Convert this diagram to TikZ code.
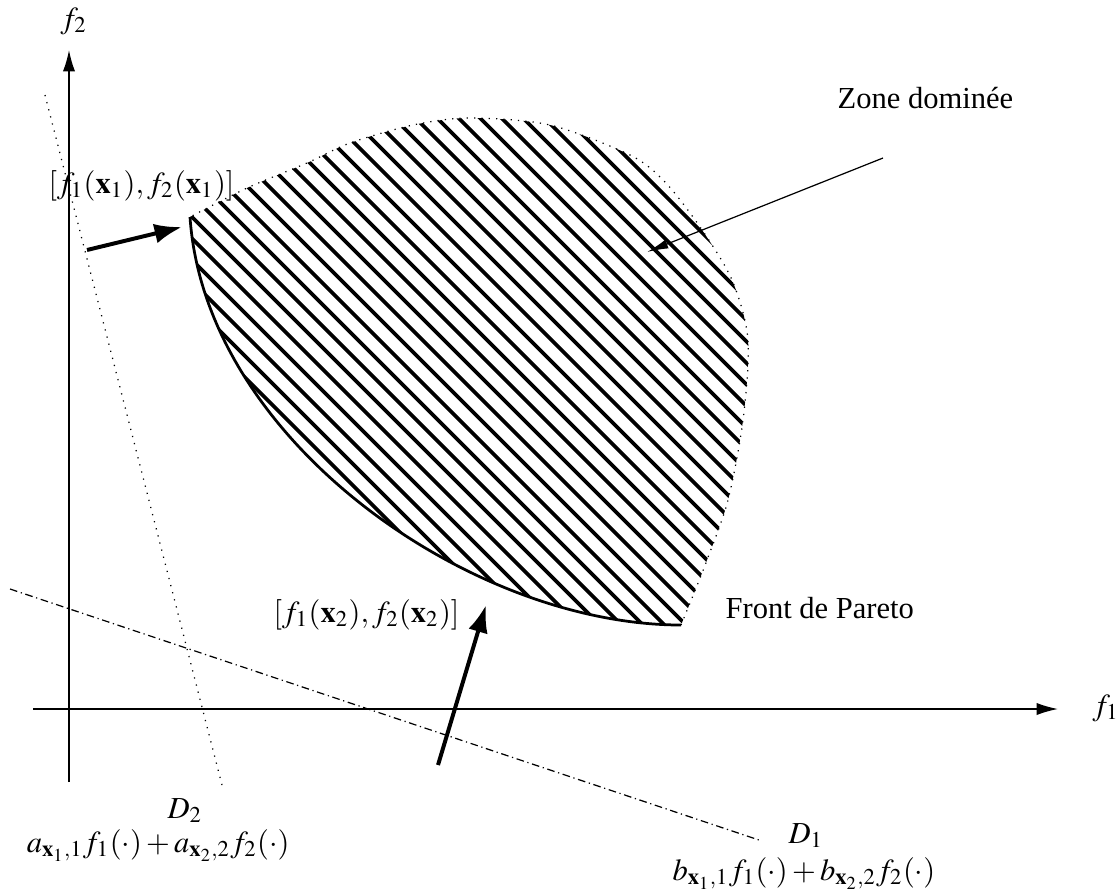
\documentclass[tikz,border=0pt]{standalone}
\usepackage{mathptmx}
\usepackage{fontspec}
\setmainfont{Liberation Serif}
\usetikzlibrary{arrows.meta,positioning}

\newcommand{\zonepath}{(190,217) .. controls (205,440) and (470,625) .. (681,625)
  -- plot[smooth] coordinates {(681,625) (690,603) (707,560) (728,500) (743,420) (748,340) (732,280) (700,227) (665,182) (630,155) (550,125) (470,118) (413,125) (350,143) (307,163) (247,188) (190,217)}}

\begin{document}
\begin{tikzpicture}[x=0.0115cm,y=-0.0115cm,
  axe/.style={line width=0.5pt,-{Latex[length=7pt,width=4pt]}},
  fleche/.style={line width=1.3pt,-{Latex[length=9pt,width=6.5pt]}},
  hach/.style={line width=1.2pt},
  lab/.style={inner sep=0pt}]
\useasboundingbox (0,0) rectangle (1116,890);

% axes
\coordinate (Xa) at (33,709);
\coordinate (X) at (1058,709);
\coordinate (Yb) at (69,782);
\coordinate (Y) at (69,50);
\draw[axe] (Xa) -- (X);
\draw[axe] (Yb) -- (Y);
\node[lab,anchor=base west] (F1) at (1092,715) {$f_1$};
\node[lab,anchor=base west] (F2) at (60,28) {$f_2$};

% droites D1 et D2
\coordinate (A1) at (10,589);
\coordinate (A2) at (762,841);
\coordinate (B1) at (45,95);
\coordinate (B2) at (223,789);
\draw[line width=0.4pt,dash pattern=on 2.5pt off 1.2pt on 0.4pt off 1.2pt] (A1) -- (A2);
\draw[line width=0.4pt,dotted] (B1) -- (B2);

% zone dominee
\begin{scope}
\clip \zonepath;
\foreach \c in {-304.5,-283,...,520}
  \draw[hach] (\c,0) -- ++(900,900);
\end{scope}
\draw[line width=0.4pt,dotted] plot[smooth] coordinates {(681,625) (690,603) (707,560) (728,500) (743,420) (748,340) (732,280) (700,227) (665,182) (630,155) (550,125) (470,118) (413,125) (350,143) (307,163) (247,188) (190,217)};
\draw[line width=0.9pt] (190,217) .. controls (205,440) and (470,625) .. (681,625);

% fleches
\coordinate (P1) at (87,250);
\coordinate (Q1) at (182,227);
\coordinate (P2) at (438,765);
\coordinate (Q2) at (486,605);
\coordinate (P3) at (883,158);
\coordinate (Q3) at (647,252);
\draw[fleche] (P1) -- (Q1);
\draw[fleche] (P2) -- (Q2);
\draw[line width=0.4pt,-{Latex[length=7pt,width=3pt]}] (P3) -- (Q3);

% textes
\node[lab,anchor=base west] (Z) at (837,108) {Zone dominée};
\node[lab,anchor=base west] (FP) at (725,618) {Front de Pareto};
\node[lab,anchor=base west] (X1) at (48,193) {$[f_1(\mathbf{x}_1),f_2(\mathbf{x}_1)]$};
\node[lab,anchor=base west] (X2) at (273,622) {$[f_1(\mathbf{x}_2),f_2(\mathbf{x}_2)]$};
\node[lab,anchor=base west] (D2) at (167,818) {$D_2$};
\node[lab,anchor=base east] (E2) at (290,852) {$a_{\mathbf{x}_1,1}f_1(\cdot)+a_{\mathbf{x}_2,2}f_2(\cdot)$};
\node[lab,anchor=base west] (D1) at (788,843) {$D_1$};
\node[lab,anchor=base west] (E1) at (672,880) {$b_{\mathbf{x}_1,1}f_1(\cdot)+b_{\mathbf{x}_2,2}f_2(\cdot)$};
\end{tikzpicture}
\end{document}
